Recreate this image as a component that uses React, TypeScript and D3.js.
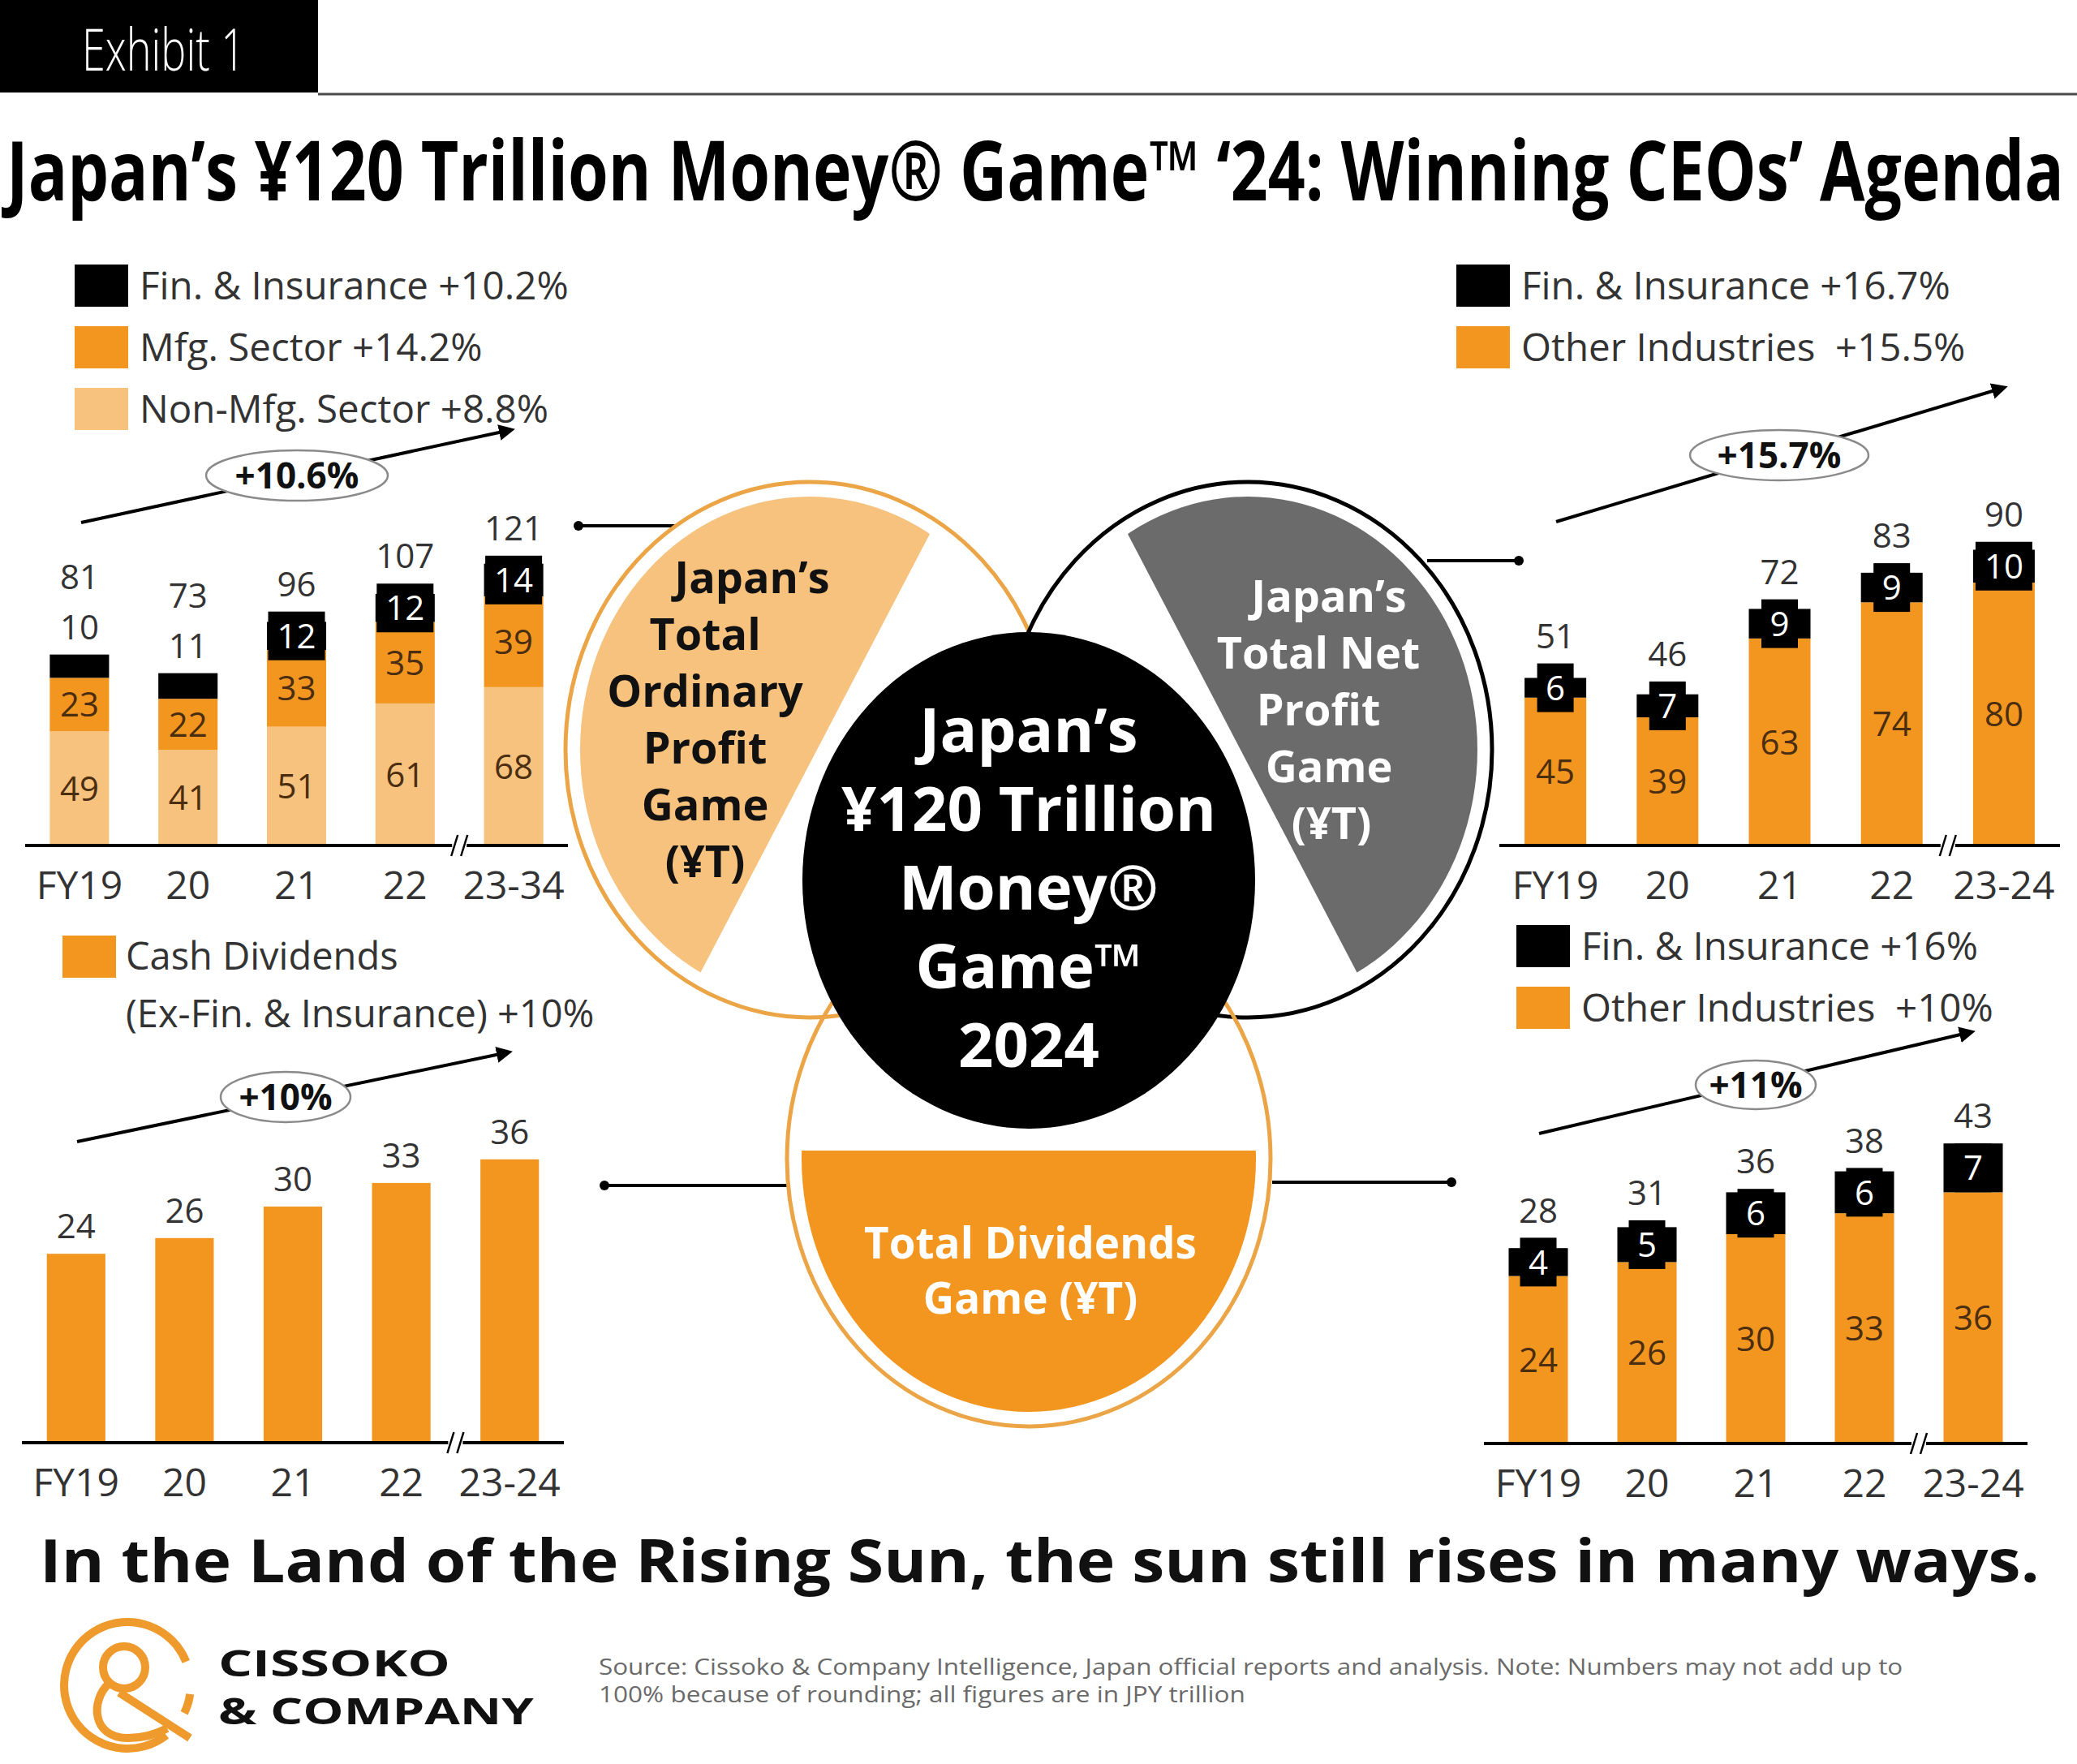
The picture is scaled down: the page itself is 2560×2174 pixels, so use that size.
import React, { useLayoutEffect, useRef, useState } from "react";
import * as d3 from "d3";

const FONT = "'Open Sans', 'DejaVu Sans', sans-serif";
const ORANGE = "#F29620";
const LIGHT_ORANGE = "#F6C27D";
const OUTLINE_ORANGE = "#EBA546";
const GRAY_FILL = "#6b6b6b";
const BROWN = "#4b2d10";
const INK = "#333333";

// ---- data (JPY trillion) ----
const YEARS_ORD = ["FY19", "20", "21", "22", "23-34"];
const YEARS = ["FY19", "20", "21", "22", "23-24"];

const ORD_NON_MFG = [49, 41, 51, 61, 68];
const ORD_MFG = [23, 22, 33, 35, 39];
const ORD_FIN = [10, 11, 12, 12, 14];
const ORD_TOTAL = [81, 73, 96, 107, 121];

const NET_OTHER = [45, 39, 63, 74, 80];
const NET_FIN = [6, 7, 9, 9, 10];
const NET_TOTAL = [51, 46, 72, 83, 90];

const CASH_DIV = [24, 26, 30, 33, 36];

const DIV_OTHER = [24, 26, 30, 33, 36];
const DIV_FIN = [4, 5, 6, 6, 7];
const DIV_TOTAL = [28, 31, 36, 38, 43];

const ORD_LEGEND = ["Fin. & Insurance +10.2%", "Mfg. Sector +14.2%", "Non-Mfg. Sector +8.8%"];
const NET_LEGEND = ["Fin. & Insurance +16.7%", "Other Industries  +15.5%"];
const CASH_LEGEND = ["Cash Dividends", "(Ex-Fin. & Insurance) +10%"];
const DIV_LEGEND = ["Fin. & Insurance +16%", "Other Industries  +10%"];
const CAGR = ["+10.6%", "+15.7%", "+10%", "+11%"];

const TITLE = "Japan’s ¥120 Trillion Money® Game™ ‘24: Winning CEOs’ Agenda";
const TAGLINE = "In the Land of the Rising Sun, the sun still rises in many ways.";
const SOURCE = [
  "Source: Cissoko & Company Intelligence, Japan official reports and analysis. Note: Numbers may not add up to",
  "100% because of rounding; all figures are in JPY trillion",
];

// text squeezed horizontally to a target width (keeps glyph height)
const FitText = ({ x, y, width, children, ...rest }: any) => {
  const ref = useRef<SVGTextElement>(null);
  const [sx, setSx] = useState(1);
  useLayoutEffect(() => {
    if (ref.current) {
      const w = ref.current.getComputedTextLength();
      if (w > 0) setSx(width / w);
    }
  }, [width, children]);
  return (
    <text ref={ref} transform={`translate(${x},${y}) scale(${sx},1)`} {...rest}>
      {children}
    </text>
  );
};

// stacked bar panel
const StackChart = ({ cats, layers, totals, x0, x1, pad, base, unit, outsideFin = 0 }: any) => {
  const rows = cats.map((c: string, i: number) => {
    const r: any = { cat: c };
    layers.forEach((l: any) => (r[l.key] = l.values[i]));
    return r;
  });
  const stack = d3.stack().keys(layers.map((l: any) => l.key))(rows);
  const x = d3.scaleBand().domain(cats).range([x0, x1]).paddingInner(pad).paddingOuter(pad / 2);
  const y = d3.scaleLinear().domain([0, 100]).range([base, base - 100 * unit]);
  const bw = x.bandwidth();
  const breakX = ((x(cats[3]) as number) + bw + (x(cats[4]) as number)) / 2;

  return (
    <g fontFamily={FONT}>
      {cats.map((c: string, i: number) => {
        const bx = x(c) as number;
        const cx = bx + bw / 2;
        let top = y(stack[stack.length - 1][i][1]);
        let outside: number | null = null;
        const parts: any[] = [];
        stack.forEach((s: any, k: number) => {
          const L = layers[k];
          const yTop = y(s[i][1]);
          const yBot = y(s[i][0]);
          const mid = (yTop + yBot) / 2;
          parts.push(<rect key={"r" + k} x={bx} y={yTop} width={bw} height={yBot - yTop} fill={L.color} />);
          if (L.badge) {
            if (i < outsideFin) {
              outside = L.values[i];
            } else {
              const label = String(L.values[i]);
              const bh = 60;
              const nw = Math.min(bw, label.length * 25 + 20);
              parts.push(<rect key={"b" + k} x={cx - nw / 2} y={mid - bh / 2} width={nw} height={bh} fill="#000" />);
              parts.push(
                <text key={"t" + k} x={cx} y={mid} dy="0.36em" textAnchor="middle" fontSize={42} fill="#fff">
                  {label}
                </text>
              );
              top = Math.min(top, mid - bh / 2);
            }
          } else if (L.text) {
            parts.push(
              <text key={"t" + k} x={cx} y={mid} dy="0.36em" textAnchor="middle" fontSize={42} fill={L.text}>
                {L.values[i]}
              </text>
            );
          }
        });
        let ty = top - 34;
        if (outside !== null) {
          parts.push(
            <text key="out" x={cx} y={ty} dy="0.36em" textAnchor="middle" fontSize={42} fill={INK}>
              {outside}
            </text>
          );
          ty -= 62;
        }
        parts.push(
          <text key="tot" x={cx} y={ty} dy="0.36em" textAnchor="middle" fontSize={42} fill={INK}>
            {totals[i]}
          </text>
        );
        parts.push(
          <text key="ax" x={cx} y={base + 66} textAnchor="middle" fontSize={48} fill={INK}>
            {c}
          </text>
        );
        return <g key={c}>{parts}</g>;
      })}
      <line x1={x0} x2={x1} y1={base} y2={base} stroke="#000" strokeWidth={4} />
      <rect x={breakX - 9} y={base - 4} width={18} height={8} fill="#fff" />
      <line x1={breakX - 10} y1={base + 13} x2={breakX - 2} y2={base - 13} stroke="#000" strokeWidth={2.5} />
      <line x1={breakX + 2} y1={base + 13} x2={breakX + 10} y2={base - 13} stroke="#000" strokeWidth={2.5} />
    </g>
  );
};

const Legend = ({ x, y, step, items }: any) => (
  <g fontFamily={FONT}>
    {items.map((it: any, i: number) => (
      <g key={i}>
        {it.color && <rect x={x} y={y + i * step} width={66} height={52} fill={it.color} />}
        <text x={x + 80} y={y + i * step + 26} dy="0.36em" fontSize={47.5} fill={INK} style={{ whiteSpace: "pre" }}>
          {it.label}
        </text>
      </g>
    ))}
  </g>
);

const Trend = ({ from, to, c, rx, ry, label }: any) => (
  <g>
    <line x1={from[0]} y1={from[1]} x2={to[0]} y2={to[1]} stroke="#000" strokeWidth={4} markerEnd="url(#arrow)" />
    <ellipse cx={c[0]} cy={c[1]} rx={rx} ry={ry} fill="#fff" stroke="#8a8a8a" strokeWidth={2.5} />
    <text x={c[0]} y={c[1]} dy="0.36em" textAnchor="middle" fontFamily={FONT} fontWeight={700} fontSize={44} fill="#111">
      {label}
    </text>
  </g>
);

const Connector = ({ x1, x2, y, dot }: any) => (
  <g>
    <line x1={x1} x2={x2} y1={y} y2={y} stroke="#000" strokeWidth={4} />
    <circle cx={dot} cy={y} r={6} fill="#000" />
  </g>
);

const Lines = ({ lines, y0, step, size, fill }: any) => (
  <g fontFamily={FONT} fontWeight={700} fontSize={size} fill={fill} textAnchor="middle">
    {lines.map((l: any, i: number) => (
      <text key={i} x={l[1]} y={y0 + i * step} dy="0.36em">
        {l[0]}
      </text>
    ))}
  </g>
);

const arcPath = (cx: number, cy: number, r: number, a0: number, a1: number, large: number, sweep: number) => {
  const rad = Math.PI / 180;
  const p0 = [cx + r * Math.cos(a0 * rad), cy + r * Math.sin(a0 * rad)];
  const p1 = [cx + r * Math.cos(a1 * rad), cy + r * Math.sin(a1 * rad)];
  return `M${p0[0]},${p0[1]} A${r},${r} 0 ${large} ${sweep} ${p1[0]},${p1[1]}`;
};

export default function App() {
  const W = 2560;
  const H = 2174;

  // center venn geometry
  const L = { cx: 998, cy: 924 };
  const R = { cx: 1538, cy: 924 };
  const B = { cx: 1268, cy: 1428 };
  const chordL = [[1306, 352], [708, 1496]];
  const chordR = [[1230, 352], [1828, 1496]];

  return (
    <svg width={W} height={H} style={{ position: "absolute", left: 0, top: 0, background: "#fff" }}>
      <defs>
        <marker id="arrow" viewBox="0 0 10 10" refX="7" refY="5" markerWidth="5" markerHeight="5" orient="auto">
          <path d="M0,0 L10,5 L0,10 z" fill="#000" />
        </marker>
        <clipPath id="clipL">
          <polygon points={`${chordL[0]} ${chordL[1]} 600,1496 600,352`} />
        </clipPath>
        <clipPath id="clipR">
          <polygon points={`${chordR[0]} ${chordR[1]} 1950,1496 1950,352`} />
        </clipPath>
        <clipPath id="clipB">
          <rect x={900} y={1418} width={800} height={400} />
        </clipPath>
      </defs>
      <rect x={0} y={0} width={W} height={H} fill="#fff" />

      {/* header */}
      <rect x={0} y={0} width={392} height={114} fill="#000" />
      <FitText x={101} y={87} width={201} fontFamily={FONT} fontWeight={300} fontSize={72} fill="#fff">
        Exhibit 1
      </FitText>
      <line x1={392} x2={W} y1={116} y2={116} stroke="#4a4a4a" strokeWidth={3} />
      <FitText x={8} y={247} width={2536} fontFamily={FONT} fontWeight={700} fontSize={102} fill="#000">
        {TITLE}
      </FitText>

      {/* top-left: ordinary profit */}
      <Legend
        x={92}
        y={326}
        step={76}
        items={[
          { label: ORD_LEGEND[0], color: "#000" },
          { label: ORD_LEGEND[1], color: ORANGE },
          { label: ORD_LEGEND[2], color: LIGHT_ORANGE },
        ]}
      />
      <Trend from={[100, 644]} to={[629, 530]} c={[366, 586]} rx={112} ry={31} label={CAGR[0]} />
      <StackChart
        cats={YEARS_ORD}
        layers={[
          { key: "non", values: ORD_NON_MFG, color: LIGHT_ORANGE, text: BROWN },
          { key: "mfg", values: ORD_MFG, color: ORANGE, text: BROWN },
          { key: "fin", values: ORD_FIN, color: "#000", badge: true },
        ]}
        totals={ORD_TOTAL}
        x0={31}
        x1={700}
        pad={0.454}
        base={1042}
        unit={2.87}
        outsideFin={2}
      />

      {/* top-right: net profit */}
      <Legend
        x={1795}
        y={326}
        step={76}
        items={[
          { label: NET_LEGEND[0], color: "#000" },
          { label: NET_LEGEND[1], color: ORANGE },
        ]}
      />
      <Trend from={[1918, 643]} to={[2469, 478]} c={[2193, 561]} rx={110} ry={31} label={CAGR[1]} />
      <StackChart
        cats={YEARS}
        layers={[
          { key: "other", values: NET_OTHER, color: ORANGE, text: BROWN },
          { key: "fin", values: NET_FIN, color: "#000", badge: true },
        ]}
        totals={NET_TOTAL}
        x0={1848}
        x1={2539}
        pad={0.45}
        base={1042}
        unit={4.05}
      />

      {/* bottom-left: cash dividends */}
      <rect x={77} y={1153} width={66} height={52} fill={ORANGE} />
      <g fontFamily={FONT} fontSize={47} fill={INK}>
        <text x={155} y={1195}>{CASH_LEGEND[0]}</text>
        <text x={155} y={1266}>{CASH_LEGEND[1]}</text>
      </g>
      <Trend from={[95, 1407]} to={[626, 1297]} c={[352, 1352]} rx={80} ry={31} label={CAGR[2]} />
      <StackChart
        cats={YEARS}
        layers={[{ key: "div", values: CASH_DIV, color: ORANGE, text: null }]}
        totals={CASH_DIV}
        x0={27}
        x1={695}
        pad={0.46}
        base={1778}
        unit={9.7}
      />

      {/* bottom-right: total dividends */}
      <Legend
        x={1869}
        y={1140}
        step={76}
        items={[
          { label: DIV_LEGEND[0], color: "#000" },
          { label: DIV_LEGEND[1], color: ORANGE },
        ]}
      />
      <Trend from={[1897, 1397]} to={[2429, 1272]} c={[2164, 1337]} rx={74} ry={30} label={CAGR[3]} />
      <StackChart
        cats={YEARS}
        layers={[
          { key: "other", values: DIV_OTHER, color: ORANGE, text: BROWN },
          { key: "fin", values: DIV_FIN, color: "#000", badge: true },
        ]}
        totals={DIV_TOTAL}
        x0={1829}
        x1={2499}
        pad={0.455}
        base={1779}
        unit={8.6}
      />

      {/* connectors */}
      <Connector x1={713} x2={833} y={648} dot={713} />
      <Connector x1={1759} x2={1872} y={691} dot={1872} />
      <Connector x1={745} x2={970} y={1461} dot={745} />
      <Connector x1={1568} x2={1789} y={1457} dot={1789} />

      {/* center venn */}
      <ellipse cx={L.cx} cy={L.cy} rx={283} ry={312} fill={LIGHT_ORANGE} clipPath="url(#clipL)" />
      <ellipse cx={L.cx} cy={L.cy} rx={301} ry={330} fill="none" stroke={OUTLINE_ORANGE} strokeWidth={5} />
      <ellipse cx={R.cx} cy={R.cy} rx={283} ry={312} fill={GRAY_FILL} clipPath="url(#clipR)" />
      <ellipse cx={R.cx} cy={R.cy} rx={301} ry={330} fill="none" stroke="#000" strokeWidth={5} />
      <ellipse cx={B.cx} cy={B.cy} rx={280} ry={312} fill={ORANGE} clipPath="url(#clipB)" />
      <ellipse cx={B.cx} cy={B.cy} rx={298} ry={330} fill="none" stroke={OUTLINE_ORANGE} strokeWidth={5} />
      <ellipse cx={1268} cy={1085} rx={279} ry={306} fill="#000" />

      <Lines
        lines={[["Japan’s", 927], ["Total", 869], ["Ordinary", 869], ["Profit", 869], ["Game", 869], ["(¥T)", 869]]}
        y0={712}
        step={70}
        size={54}
        fill="#111"
      />
      <Lines
        lines={[["Japan’s", 1638], ["Total Net", 1625], ["Profit", 1625], ["Game", 1638], ["(¥T)", 1641]]}
        y0={735}
        step={70}
        size={54}
        fill="#fff"
      />
      <Lines
        lines={[["Japan’s", 1268], ["¥120 Trillion", 1268], ["Money®", 1268], ["Game™", 1268], ["2024", 1268]]}
        y0={900}
        step={97}
        size={76}
        fill="#fff"
      />
      <Lines lines={[["Total Dividends", 1270], ["Game (¥T)", 1270]]} y0={1532} step={68} size={53} fill="#fff" />

      {/* footer */}
      <FitText x={49} y={1950} width={2465} fontFamily={FONT} fontWeight={700} fontSize={74} fill="#111">
        {TAGLINE}
      </FitText>
      <g fill="none" stroke="#EE9A2C" strokeWidth={10}>
        <path d={arcPath(157, 2077, 78, -22, 52, 1, 0)} />
        <path d={arcPath(157, 2077, 78, 8, 26, 0, 1)} />
        <circle cx={153} cy={2055} r={26} />
        <path d="M134,2075 C112,2095 112,2142 158,2142 C180,2142 195,2136 206,2130" />
        <path d="M147,2086 L234,2142" />
      </g>
      <FitText x={269} y={2066} width={286} fontFamily={FONT} fontWeight={700} fill="#111" fontSize={44}>
        CISSOKO
      </FitText>
      <FitText x={269} y={2125} width={389} fontFamily={FONT} fontWeight={700} fill="#111" fontSize={44}>
        & COMPANY
      </FitText>
      <FitText x={738} y={2064} width={1608} fontFamily={FONT} fontSize={27} fill="#6a6a6a">
        {SOURCE[0]}
      </FitText>
      <FitText x={738} y={2098} width={797} fontFamily={FONT} fontSize={27} fill="#6a6a6a">
        {SOURCE[1]}
      </FitText>
    </svg>
  );
}
